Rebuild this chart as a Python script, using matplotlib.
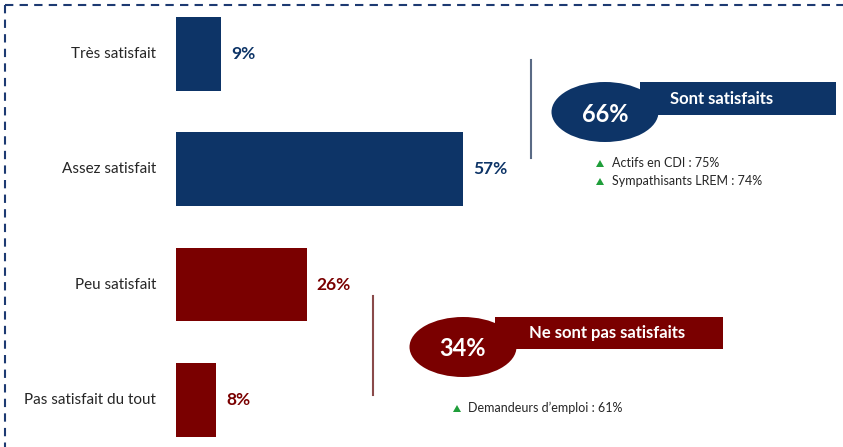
import matplotlib
matplotlib.use("Agg")
import matplotlib.pyplot as plt
from matplotlib.patches import Ellipse, Rectangle, Polygon
from matplotlib.lines import Line2D

plt.rcParams['font.family'] = ['Lato', 'DejaVu Sans']

categories = ["Très satisfait", "Assez satisfait", "Peu satisfait", "Pas satisfait du tout"]
values = [9, 57, 26, 8]
groups = ["sat", "sat", "unsat", "unsat"]
sat_title = "Sont satisfaits"
unsat_title = "Ne sont pas satisfaits"
sat_notes = ["Actifs en CDI : 75%", "Sympathisants LREM : 74%"]
unsat_notes = ["Demandeurs d\u2019emploi : 61%"]

NAVY = "#0d3467"
RED = "#7a0000"
GREEN = "#1f9e3a"
TXT = "#262626"
colors = {"sat": NAVY, "unsat": RED}

W, H = 843, 447
fig = plt.figure(figsize=(W / 100, H / 100), dpi=100)

def px(x0, y0, x1, y1):
    return [x0 / W, 1 - y1 / H, (x1 - x0) / W, (y1 - y0) / H]

# bar axes: x 176 px = 0 %, 1 % = 5.04 px ; y centers 54..400 px
ax = fig.add_axes(px(176, 7.9, 176 + 504, 446))
ax.set_xlim(0, 100)
ax.set_ylim(3.4, -0.4)
ax.axis("off")
ypos = list(range(len(categories)))
ax.barh(ypos, values, height=0.64, color=[colors[g] for g in groups])
for y, v, c, g in zip(ypos, values, categories, groups):
    ax.text(v + 1.9, y, f"{v}%", va="center", ha="left", fontsize=12.5,
            fontweight="bold", color=colors[g])
    ax.text(-3.9, y, c, va="center", ha="right", fontsize=11, color=TXT)

# overlay in pixel coordinates
ov = fig.add_axes([0, 0, 1, 1])
ov.set_xlim(0, W)
ov.set_ylim(H, 0)
ov.axis("off")
ov.patch.set_alpha(0)

# dashed frame
ov.add_line(Line2D([5, W], [5, 5], color="#1d3a72", lw=1.5, ls=(0, (4, 3))))
ov.add_line(Line2D([5, 5], [5, H], color="#1d3a72", lw=1.5, ls=(0, (4, 3))))

sat_total = sum(v for v, g in zip(values, groups) if g == "sat")
unsat_total = sum(v for v, g in zip(values, groups) if g == "unsat")

# satisfied badge
ov.add_line(Line2D([531, 531], [60, 158], color="#5a6a85", lw=1.5))
ov.add_patch(Rectangle((640, 82), 196, 33, color=NAVY, lw=0))
ov.add_patch(Ellipse((605, 112), 107, 60, color=NAVY, lw=0))
ov.text(605, 114, f"{sat_total}%", color="white", fontsize=17, fontweight="bold",
        ha="center", va="center")
ov.text(722, 99, sat_title, color="white", fontsize=12, fontweight="bold",
        ha="center", va="center")
for i, t in enumerate(sat_notes):
    yy = 163 + i * 18
    ov.add_patch(Polygon([[596, yy + 4], [604, yy + 4], [600, yy - 3]], color=GREEN, lw=0))
    ov.text(612, yy, t, fontsize=9, color=TXT, ha="left", va="center")

# unsatisfied badge
ov.add_line(Line2D([373, 373], [296, 395], color="#8a4a4a", lw=1.5))
ov.add_patch(Rectangle((495, 317), 228, 32, color=RED, lw=0))
ov.add_patch(Ellipse((463, 347), 107, 60, color=RED, lw=0))
ov.text(463, 349, f"{unsat_total}%", color="white", fontsize=17, fontweight="bold",
        ha="center", va="center")
ov.text(607, 333, unsat_title, color="white", fontsize=12, fontweight="bold",
        ha="center", va="center")
for i, t in enumerate(unsat_notes):
    yy = 408 + i * 18
    ov.add_patch(Polygon([[453, yy + 4], [461, yy + 4], [457, yy - 3]], color=GREEN, lw=0))
    ov.text(468, yy, t, fontsize=9, color=TXT, ha="left", va="center")

fig.savefig("out.png", dpi=100)
